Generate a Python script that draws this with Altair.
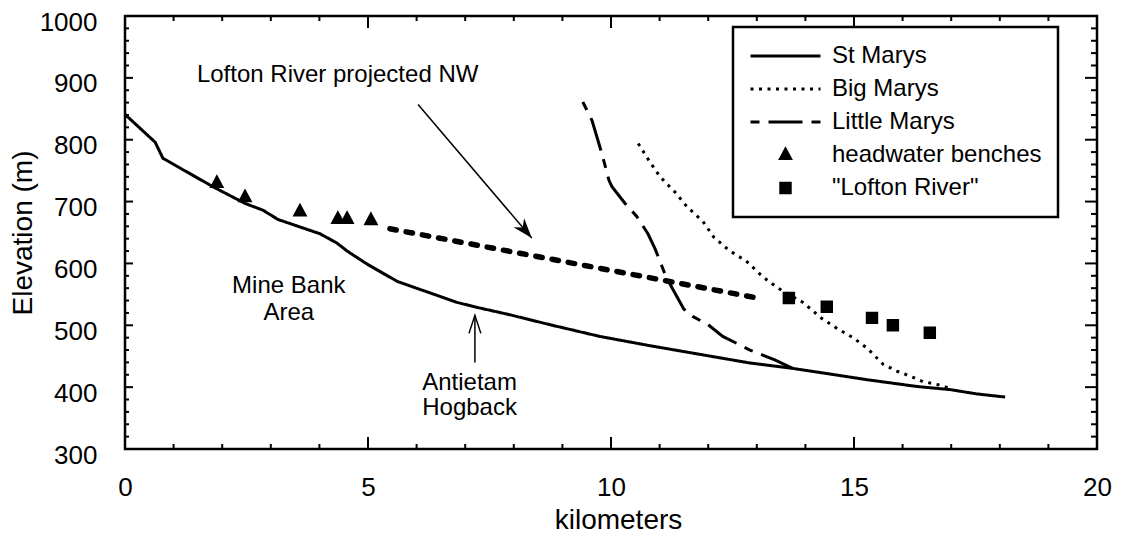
import altair as alt
import pandas as pd

FONT = "Liberation Sans"

# ---- data (km, m) ----
st_x = [0, 0.62, 0.78, 1.81, 2.47, 2.84, 3.15, 4.01, 4.36, 4.57, 4.98, 5.60, 6.83, 7.24,
        7.92, 8.74, 9.77, 10.80, 11.83, 12.86, 13.68, 14.44, 15.27, 16.30, 16.98, 17.53, 18.11]
st_y = [841, 796, 770, 724, 697, 686, 671, 648, 633, 620, 599, 571, 537, 529,
        517, 501, 482, 467, 453, 439, 431, 422, 412, 401, 396, 389, 384]

big_x = [10.56, 10.80, 11.01, 11.32, 11.56, 11.89, 12.12, 12.43, 12.78, 13.13, 13.44,
         13.95, 14.34, 14.65, 14.98, 15.27, 15.60, 15.88, 16.15, 16.42, 16.73, 16.98]
big_y = [794, 764, 740, 715, 692, 668, 642, 621, 604, 578, 560,
         537, 511, 495, 480, 463, 437, 426, 418, 409, 404, 398]

lit_x = [9.42, 9.61, 9.81, 9.96, 10.02, 10.29, 10.53, 10.76, 10.91, 11.15, 11.19,
         11.50, 11.69, 12.00, 12.30, 12.86, 13.37, 13.75]
lit_y = [861, 831, 778, 734, 724, 697, 676, 648, 623, 575, 570,
         526, 514, 501, 482, 460, 444, 430]

bench_x = [1.89, 2.47, 3.60, 4.38, 4.57, 5.06]
bench_y = [730, 707, 684, 672, 672, 670]

lofton_x = [13.66, 14.44, 15.37, 15.80, 16.56]
lofton_y = [544, 530, 512, 500, 488]

proj_x = [5.45, 13.02]
proj_y = [656, 544]

x_ticks = [0, 5, 10, 15, 20]
x_minor = [v for v in range(1, 20) if v % 5 != 0]
y_ticks = [300, 400, 500, 600, 700, 800, 900, 1000]
y_minor = [v for v in range(320, 1000, 20) if v % 100 != 0]

series_names = ["St Marys", "Big Marys", "Little Marys", "headwater benches", '"Lofton River"']
dash_range = [[1, 0], [3, 5.5], [9, 9, 34, 9], [1, 0], [1, 0]]

# annotations
note_text = ["Lofton River projected NW", "Mine Bank", "Area", "Antietam", "Hogback"]
note_x = [1.48, 3.37, 3.37, 7.09, 7.09]
note_y = [894, 553, 508, 395, 355]
note_align = ["left", "center", "center", "center", "center"]

arrow_x = [6.03, 7.20]
arrow_y = [857, 440]
arrow_x2 = [8.37, 7.20]
arrow_y2 = [641, 516]

# ---- tables ----
prow = []
for name, xs, ys in [("headwater benches", bench_x, bench_y), ('"Lofton River"', lofton_x, lofton_y)]:
    for a, b in zip(xs, ys):
        prow.append({"series": name, "x": a, "y": b})
pts_df = pd.DataFrame(prow)

proj_df = pd.DataFrame({"x": proj_x, "y": proj_y})
notes_df = pd.DataFrame({"text": note_text, "x": note_x, "y": note_y, "align": note_align})
arrows_df = pd.DataFrame({"x": arrow_x, "y": arrow_y, "x2": arrow_x2, "y2": arrow_y2})

W, H = 972, 433

xscale = alt.Scale(domain=[0, 20], nice=False, zero=False)
yscale = alt.Scale(domain=[300, 1000], nice=False, zero=False)

dash_scale = alt.Scale(domain=series_names, range=dash_range)
shape_scale = alt.Scale(domain=series_names,
                        range=["M-1,0H1", "M-1,0H1", "M-1,0H1",
                               "M0,-0.16L0.14,0.1L-0.14,0.1Z",
                               "M-0.135,-0.135H0.135V0.135H-0.135Z"])
black_scale = alt.Scale(domain=series_names, range=["black"] * 5)

xaxis = alt.Axis(values=x_ticks, format="d", ticks=False, domain=False, grid=False,
                 labelFontSize=26, labelFont=FONT, labelColor="black", labelPadding=25,
                 labelFlush=False, labelOverlap=False,
                 title="kilometers", titleFontSize=28, titleFont=FONT, titleFontWeight="normal",
                 titleColor="black", titleX=493, titleY=79, titleBaseline="alphabetic")
yaxis = alt.Axis(values=y_ticks, format="d", ticks=False, domain=False, grid=False,
                 labelFontSize=26, labelFont=FONT, labelColor="black", labelPadding=28,
                 labelOffset=6, labelOverlap=False,
                 title="Elevation (m)", titleFontSize=28, titleFont=FONT, titleFontWeight="normal",
                 titleColor="black", titleX=-94, titleBaseline="alphabetic")

legend = alt.Legend(title=None, orient="none", legendX=608, legendY=11, columns=1,
                    clipHeight=26, rowPadding=7, padding=16, labelOffset=10, symbolOffset=0,
                    labelFontSize=24, labelFont=FONT, labelColor="black", labelLimit=400,
                    fillColor="white", strokeColor="black", symbolSize=4900,
                    symbolStrokeWidth=3, symbolStrokeColor="black", symbolFillColor="black")


def X(field):
    return alt.X(field, scale=xscale, axis=xaxis)


def Y(field):
    return alt.Y(field, scale=yscale, axis=yaxis)


def line_layer(xs, ys, dash):
    df = pd.DataFrame({"x": xs, "y": ys, "order": list(range(len(xs)))})
    return alt.Chart(df).mark_line(color="black", strokeWidth=3, strokeCap="butt",
                                   strokeDash=dash).encode(
        x=X("x:Q"), y=Y("y:Q"), order="order:Q")


line_layers = [
    line_layer(st_x, st_y, dash_range[0]),
    line_layer(big_x, big_y, dash_range[1]),
    line_layer(lit_x, lit_y, dash_range[2]),
]

proj = alt.Chart(proj_df).mark_line(color="black", strokeWidth=5.5, strokeDash=[6.5, 10],
                                    strokeCap="round").encode(x=X("x:Q"), y=Y("y:Q"))

pts = alt.Chart(pts_df).mark_point(filled=True, strokeWidth=3, size=4900, opacity=1).encode(
    x=X("x:Q"), y=Y("y:Q"),
    shape=alt.Shape("series:N", scale=shape_scale, legend=legend),
    strokeDash=alt.StrokeDash("series:N", scale=dash_scale, legend=legend),
    stroke=alt.Stroke("series:N", scale=black_scale, legend=legend),
    fill=alt.Fill("series:N", scale=black_scale, legend=legend),
)


def xrule(vals, y1, y2):
    return alt.Chart(pd.DataFrame({"x": vals})).mark_rule(color="black", strokeWidth=2).encode(
        x=X("x:Q"), y=alt.value(y1), y2=alt.value(y2))


def yrule(vals, x1, x2):
    return alt.Chart(pd.DataFrame({"y": vals})).mark_rule(color="black", strokeWidth=2).encode(
        y=Y("y:Q"), x=alt.value(x1), x2=alt.value(x2))


tick_layers = [
    xrule(x_ticks, H, H - 12), xrule(x_minor, H, H - 5),
    xrule(x_ticks, 0, 12), xrule(x_minor, 0, 5),
    yrule(y_ticks, 0, 8), yrule(y_minor, 0, 4),
    yrule(y_ticks, W, W - 12), yrule(y_minor, W, W - 6),
]

arrows = alt.Chart(arrows_df).mark_rule(color="black", strokeWidth=1.5).encode(
    x=X("x:Q"), y=Y("y:Q"), x2="x2:Q", y2="y2:Q")

head1_df = pd.DataFrame({"x": arrow_x2[:1], "y": arrow_y2[:1]})
head2_df = pd.DataFrame({"x": arrow_x2[1:], "y": arrow_y2[1:]})

head1 = alt.Chart(head1_df).mark_point(
    shape="M0,0L-0.35,1L0,0.7L0.35,1Z", size=1600, angle=139.6, filled=True,
    color="black", opacity=1).encode(x=X("x:Q"), y=Y("y:Q"))

head2 = alt.Chart(head2_df).mark_point(
    shape="M-0.33,1L0,0L0.33,1", size=1296, filled=False, strokeWidth=1.5,
    color="black", opacity=1).encode(x=X("x:Q"), y=Y("y:Q"))

notes_left = alt.Chart(notes_df[notes_df["align"] == "left"]).mark_text(
    align="left", baseline="alphabetic", fontSize=24, font=FONT, color="black").encode(
    x=X("x:Q"), y=Y("y:Q"), text="text:N")
notes_center = alt.Chart(notes_df[notes_df["align"] == "center"]).mark_text(
    align="center", baseline="alphabetic", fontSize=24, font=FONT, color="black").encode(
    x=X("x:Q"), y=Y("y:Q"), text="text:N")

chart = alt.layer(
    *line_layers, proj, pts, *tick_layers, arrows, head1, head2, notes_left, notes_center
).properties(
    width=W, height=H,
    padding={"left": 117, "top": 8, "right": 16, "bottom": 85},
    autosize=alt.AutoSizeParams(type="none"),
    background="white",
).configure_view(stroke="black", strokeWidth=2.5).configure_legend(strokeWidth=2.5)

chart.save("out.html", embed_options={"renderer": "svg", "actions": False})
